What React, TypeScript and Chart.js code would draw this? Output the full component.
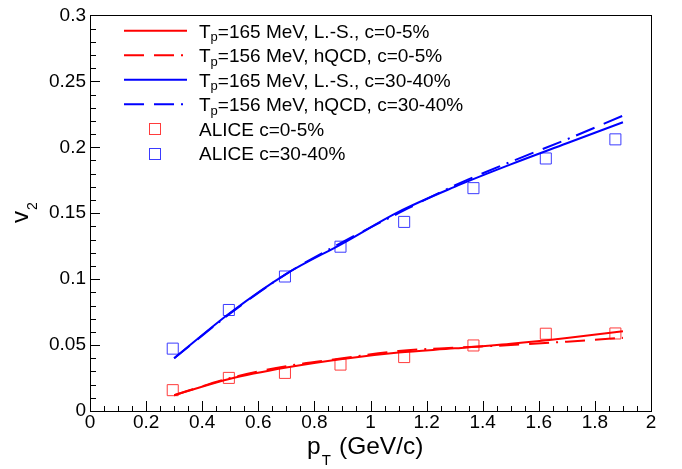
import React, { useEffect, useRef } from "react";
import { Chart, registerables } from "chart.js";

Chart.register(...registerables);

// ---- data ----
const curvePt = [0.3, 0.5, 0.7, 0.9, 1.1, 1.3, 1.5, 1.7, 1.9];
const redLS = [0.012, 0.0245, 0.033, 0.0395, 0.0443, 0.0475, 0.051, 0.0554, 0.0605];
const redHQCD = [0.012, 0.025, 0.034, 0.040, 0.0455, 0.048, 0.050, 0.0526, 0.0555];
const blueLS = [0.040, 0.0745, 0.104, 0.127, 0.151, 0.170, 0.187, 0.203, 0.219];
const blueHQCD = [0.040, 0.074, 0.104, 0.128, 0.150, 0.171, 0.189, 0.206, 0.224];

const alicePt = [0.295, 0.495, 0.695, 0.893, 1.12, 1.367, 1.625, 1.873];
const alice0to5 = [0.0158, 0.0251, 0.0289, 0.0352, 0.0409, 0.0497, 0.0586, 0.0588];
const alice30to40 = [0.0473, 0.0766, 0.102, 0.1246, 0.1434, 0.169, 0.1915, 0.206];

const xTickStep = 0.2;
const yTickStep = 0.05;

const legendEntries = [
  { kind: "line", color: "#ff0000", dash: false, pre: "T", sub: "p", post: "=165 MeV, L.-S., c=0-5%" },
  { kind: "line", color: "#ff0000", dash: true, pre: "T", sub: "p", post: "=156 MeV, hQCD, c=0-5%" },
  { kind: "line", color: "#0000ff", dash: false, pre: "T", sub: "p", post: "=165 MeV, L.-S., c=30-40%" },
  { kind: "line", color: "#0000ff", dash: true, pre: "T", sub: "p", post: "=156 MeV, hQCD, c=30-40%" },
  { kind: "box", color: "#ff3b3b", dash: false, pre: "ALICE c=0-5%", sub: "", post: "" },
  { kind: "box", color: "#3b3bff", dash: false, pre: "ALICE c=30-40%", sub: "", post: "" },
];

const FONT = "'Liberation Sans', Arial, Helvetica, sans-serif";
const DASH = [20, 10, 20, 7, 2, 7];

const toXY = (xs: number[], ys: number[]) => xs.map((x, i) => ({ x, y: ys[i] }));

const rootPlugin = {
  id: "rootStyle",
  afterDraw(chart: any) {
    const { ctx, chartArea, scales } = chart;
    const { left, right, top, bottom } = chartArea;
    const xs = scales.x;
    const ys = scales.y;
    ctx.save();
    ctx.strokeStyle = "#000";
    ctx.lineWidth = 1;
    // frame
    ctx.strokeRect(Math.round(left) + 0.5, Math.round(top) + 0.5, Math.round(right - left), Math.round(bottom - top));
    // x ticks (inward)
    ctx.beginPath();
    for (let i = 0; i <= 40; i++) {
      const v = i * 0.05;
      const px = Math.round(xs.getPixelForValue(v)) + 0.5;
      const len = i % 4 === 0 ? 10 : 5;
      ctx.moveTo(px, bottom);
      ctx.lineTo(px, bottom - len);
    }
    // y ticks (inward)
    for (let i = 0; i <= 30; i++) {
      const v = i * 0.01;
      const py = Math.round(ys.getPixelForValue(v)) + 0.5;
      const len = i % 5 === 0 ? 10 : 6;
      ctx.moveTo(left, py);
      ctx.lineTo(left + len, py);
    }
    ctx.stroke();

    // x title: p_T (GeV/c)
    ctx.fillStyle = "#000";
    ctx.textBaseline = "alphabetic";
    ctx.textAlign = "left";
    ctx.font = `24.5px ${FONT}`;
    ctx.fillText("p", 307, 454);
    const pw = ctx.measureText("p").width;
    ctx.font = `15px ${FONT}`;
    ctx.fillText("T", 307 + pw + 1, 465);
    ctx.font = `24.5px ${FONT}`;
    ctx.fillText("(GeV/c)", 339, 454);

    // y title: v_2 rotated
    ctx.save();
    ctx.translate(28, 223);
    ctx.rotate(-Math.PI / 2);
    ctx.font = `24px ${FONT}`;
    ctx.fillText("v", 0, 0);
    const vw = ctx.measureText("v").width;
    ctx.font = `14px ${FONT}`;
    ctx.fillText("2", vw + 1, 9);
    ctx.restore();

    // legend
    legendEntries.forEach((e, i) => {
      const cy = 30.7 + 24.5 * i;
      if (e.kind === "line") {
        ctx.save();
        ctx.strokeStyle = e.color;
        ctx.lineWidth = 2;
        ctx.setLineDash(e.dash ? DASH : []);
        ctx.beginPath();
        ctx.moveTo(124, cy);
        ctx.lineTo(187, cy);
        ctx.stroke();
        ctx.restore();
      } else {
        ctx.save();
        ctx.strokeStyle = e.color;
        ctx.lineWidth = 1;
        ctx.strokeRect(149.5, Math.round(cy - 5.5) + 0.5, 11, 11);
        ctx.restore();
      }
      ctx.fillStyle = "#000";
      ctx.font = `19px ${FONT}`;
      let x = 199;
      const base = cy + 7;
      ctx.fillText(e.pre, x, base);
      x += ctx.measureText(e.pre).width;
      if (e.sub) {
        ctx.font = `13px ${FONT}`;
        ctx.fillText(e.sub, x, base + 3.5);
        x += ctx.measureText(e.sub).width;
        ctx.font = `19px ${FONT}`;
      }
      if (e.post) ctx.fillText(e.post, x, base);
    });
    ctx.restore();
  },
};

const fmt = (v: any) => String(Math.round(Number(v) * 1000) / 1000);

export default function App() {
  const ref = useRef<HTMLCanvasElement>(null);
  useEffect(() => {
    const canvas = ref.current;
    if (!canvas) return;
    const lineDs = (label: string, ys: number[], color: string, dashed: boolean) => ({
      label,
      data: toXY(curvePt, ys),
      showLine: true,
      borderColor: color,
      backgroundColor: color,
      borderWidth: 2,
      borderDash: dashed ? DASH : [],
      pointRadius: 0,
      cubicInterpolationMode: "monotone" as const,
      fill: false,
    });
    const boxDs = (label: string, ys: number[], color: string) => ({
      label,
      data: toXY(alicePt, ys),
      showLine: false,
      pointStyle: "rect" as const,
      pointRadius: 7.8,
      pointBorderWidth: 1,
      pointBorderColor: color,
      pointBackgroundColor: "rgba(0,0,0,0)",
      borderColor: color,
      backgroundColor: "rgba(0,0,0,0)",
    });
    const chart = new Chart(canvas, {
      type: "scatter",
      data: {
        datasets: [
          lineDs("Tp=165 MeV, L.-S., c=0-5%", redLS, "#ff0000", false),
          lineDs("Tp=156 MeV, hQCD, c=0-5%", redHQCD, "#ff0000", true),
          lineDs("Tp=165 MeV, L.-S., c=30-40%", blueLS, "#0000ff", false),
          lineDs("Tp=156 MeV, hQCD, c=30-40%", blueHQCD, "#0000ff", true),
          boxDs("ALICE c=0-5%", alice0to5, "#ff3b3b"),
          boxDs("ALICE c=30-40%", alice30to40, "#3b3bff"),
        ] as any,
      },
      options: {
        animation: false,
        responsive: false,
        devicePixelRatio: 1,
        layout: { padding: { top: 13, right: 31, left: 0, bottom: 0 } },
        plugins: { legend: { display: false }, tooltip: { enabled: false } },
        scales: {
          x: {
            type: "linear",
            min: 0,
            max: 2,
            grid: { display: false, drawTicks: false },
            border: { display: false },
            ticks: {
              stepSize: xTickStep,
              autoSkip: false,
              maxRotation: 0,
              padding: 0,
              color: "#000",
              font: { family: FONT, size: 19 },
              callback: fmt,
            },
            afterFit: (s: any) => {
              s.height = 58;
            },
          },
          y: {
            type: "linear",
            min: 0,
            max: 0.3,
            grid: { display: false, drawTicks: false },
            border: { display: false },
            ticks: {
              stepSize: yTickStep,
              autoSkip: false,
              padding: 4,
              color: "#000",
              font: { family: FONT, size: 19 },
              callback: fmt,
            },
            afterFit: (s: any) => {
              s.width = 90;
            },
          },
        },
      } as any,
      plugins: [rootPlugin],
    });
    return () => chart.destroy();
  }, []);
  return (
    <div style={{ position: "absolute", left: 0, top: 0, width: 682, height: 469, background: "#fff" }}>
      <canvas ref={ref} width={682} height={469} style={{ display: "block" }} />
    </div>
  );
}
